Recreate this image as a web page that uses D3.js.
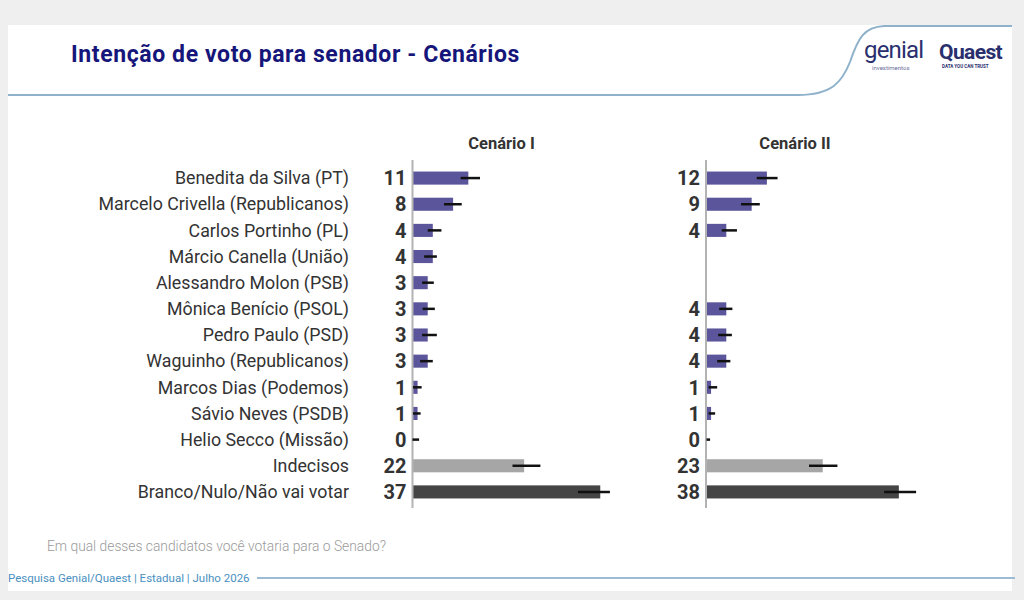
<!DOCTYPE html>
<html>
<head>
<meta charset="utf-8">
<script src="https://cdn.jsdelivr.net/npm/d3@7"></script>
<style>
  body { margin: 0; background: #efefef; font-family: Roboto, "Noto Sans", sans-serif; }
  svg { display: block; }
</style>
</head>
<body>
<svg id="chart" width="1024" height="600"></svg>
<script>
// --- data ---
const candidates = [
  'Benedita da Silva (PT)', 'Marcelo Crivella (Republicanos)', 'Carlos Portinho (PL)',
  'Márcio Canella (União)', 'Alessandro Molon (PSB)', 'Mônica Benício (PSOL)',
  'Pedro Paulo (PSD)', 'Waguinho (Republicanos)', 'Marcos Dias (Podemos)',
  'Sávio Neves (PSDB)', 'Helio Secco (Missão)', 'Indecisos', 'Branco/Nulo/Não vai votar'
];
const scenarios = ['Cenário I', 'Cenário II'];

const valuesI  = [11, 8, 4, 4, 3, 3, 3, 3, 1, 1, 0, 22, 37];
const lowI     = [9.5, 6.2, 3.0, 2.3, 1.9, 2.0, 1.9, 1.5, 0.1, 0.1, 0, 19.7, 32.6];
const highI    = [13.3, 9.7, 5.7, 4.8, 4.2, 4.4, 4.8, 4.0, 1.8, 1.6, 1.3, 25.2, 38.9];

const valuesII = [12, 9, 4, null, null, 4, 4, 4, 1, 1, 0, 23, 38];
const lowII    = [10.0, 6.9, 3.1, null, null, 2.6, 2.4, 2.2, 0.5, 0.5, 0.1, 20.3, 35.1];
const highII   = [14.1, 10.6, 6.1, null, null, 5.2, 5.1, 4.8, 2.2, 1.8, 0.8, 25.9, 41.4];

const svg = d3.select('#chart');

// card + header decoration
svg.append('rect')
  .attr('x', 8).attr('y', 25).attr('width', 1004).attr('height', 566)
  .attr('fill', '#fff');

svg.append('path')
  .attr('d', 'M8,95 L798,95 C832,95 842,82 850,62 C858,38 864,27 884,26 L1012,26')
  .attr('fill', 'none')
  .attr('stroke', '#8fb2cc')
  .attr('stroke-width', 2);

svg.append('text')
  .attr('x', 71).attr('y', 62)
  .style('font-size', '23px')
  .style('font-weight', 'bold')
  .style('letter-spacing', '0.6px')
  .style('fill', '#16167a')
  .text('Intenção de voto para senador - Cenários');

// logo
const logo = svg.append('g').style('fill', '#2a2f6e');
logo.append('text').attr('x', 864).attr('y', 58)
  .style('font-size', '24px').style('letter-spacing', '-0.8px').text('genial');
logo.append('text').attr('x', 872).attr('y', 70)
  .style('font-size', '6px').style('fill', '#6a6f9a').text('investimentos');
logo.append('text').attr('x', 939).attr('y', 59)
  .style('font-size', '21px').style('font-weight', 'bold').style('letter-spacing', '-0.6px').text('Quaest');
logo.append('text').attr('x', 942).attr('y', 68)
  .style('font-size', '4.5px').style('font-weight', 'bold').text('DATA YOU CAN TRUST');

// --- scales ---
const y = d3.scaleBand()
  .domain(candidates)
  .range([165, 505])
  .paddingInner(0.5)
  .paddingOuter(0.25);

const panels = [
  { name: scenarios[0], x0: 412.5, values: valuesI, low: lowI, high: highI },
  { name: scenarios[1], x0: 706, values: valuesII, low: lowII, high: highII }
];

const barColor = (i) => i === 11 ? '#a6a6a6' : i === 12 ? '#454545' : '#5b559b';

// candidate labels
svg.append('g').selectAll('text')
  .data(candidates)
  .join('text')
  .attr('x', 349)
  .attr('y', d => y(d) + y.bandwidth() / 2)
  .attr('dy', '0.35em')
  .attr('text-anchor', 'end')
  .style('font-size', '17.8px')
  .style('fill', '#333')
  .text(d => d);

panels.forEach(p => {
  const x = d3.scaleLinear().domain([0, 40]).range([p.x0, p.x0 + 203]);
  const g = svg.append('g');
  const rows = candidates.map((c, i) => ({ c, i, v: p.values[i], lo: p.low[i], hi: p.high[i] }))
    .filter(d => d.v !== null);

  g.append('text')
    .attr('x', p.x0 + 89)
    .attr('y', 149)
    .attr('text-anchor', 'middle')
    .style('font-size', '16.5px')
    .style('font-weight', 'bold')
    .style('fill', '#333')
    .text(p.name);

  g.selectAll('.bar')
    .data(rows)
    .join('rect')
    .attr('class', 'bar')
    .attr('x', x(0))
    .attr('y', d => y(d.c))
    .attr('width', d => x(d.v) - x(0))
    .attr('height', y.bandwidth())
    .attr('fill', d => barColor(d.i));

  // axis line
  g.append('line')
    .attr('x1', x(0)).attr('x2', x(0))
    .attr('y1', 160).attr('y2', 508)
    .attr('stroke', '#b3b3b3')
    .attr('stroke-width', 2);

  g.selectAll('.err')
    .data(rows)
    .join('line')
    .attr('class', 'err')
    .attr('x1', d => x(d.lo))
    .attr('x2', d => x(d.hi))
    .attr('y1', d => y(d.c) + y.bandwidth() / 2)
    .attr('y2', d => y(d.c) + y.bandwidth() / 2)
    .attr('stroke', '#111')
    .attr('stroke-width', 2.5);

  g.selectAll('.val')
    .data(rows)
    .join('text')
    .attr('class', 'val')
    .attr('x', x(0) - 6)
    .attr('y', d => y(d.c) + y.bandwidth() / 2)
    .attr('dy', '0.36em')
    .attr('text-anchor', 'end')
    .style('font-size', '20px')
    .style('font-weight', 'bold')
    .style('fill', '#333')
    .text(d => d.v);
});

// footer
svg.append('text')
  .attr('x', 47).attr('y', 551)
  .style('font-size', '13.8px')
  .style('font-weight', '300')
  .style('fill', '#9a9a9a')
  .text('Em qual desses candidatos você votaria para o Senado?');

svg.append('text')
  .attr('x', 8).attr('y', 582)
  .style('font-size', '11.5px')
  .style('fill', '#4a8fc0')
  .text('Pesquisa Genial/Quaest | Estadual | Julho 2026');

svg.append('line')
  .attr('x1', 257).attr('x2', 1015)
  .attr('y1', 578).attr('y2', 578)
  .attr('stroke', '#9dbbd3')
  .attr('stroke-width', 2);
</script>
</body>
</html>
